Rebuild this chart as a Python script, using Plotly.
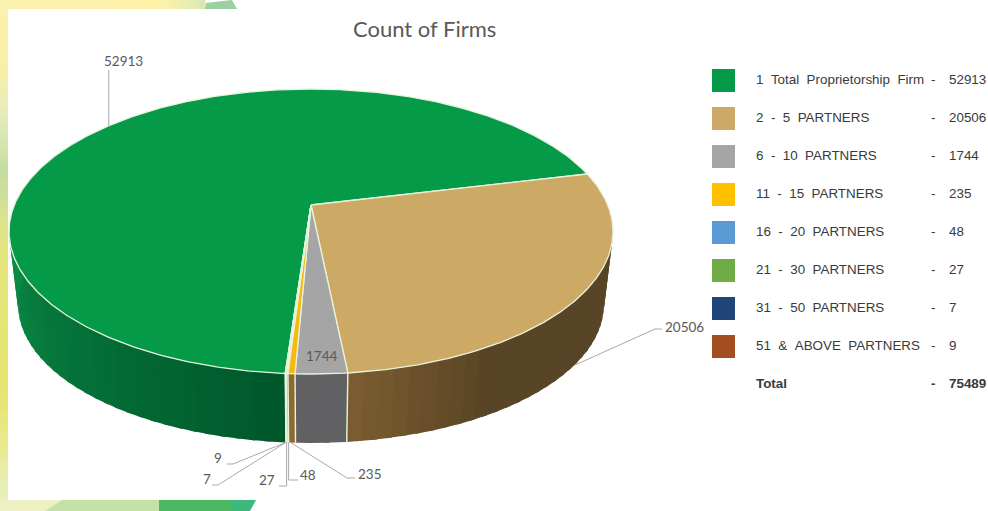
import numpy as np
import plotly.graph_objects as go

# Firm counts by number of partners
categories = ["2 - 5 PARTNERS", "6 - 10 PARTNERS", "11 - 15 PARTNERS", "16 - 20 PARTNERS",
              "21 - 30 PARTNERS", "31 - 50 PARTNERS", "51 & ABOVE PARTNERS", "1 Total Proprietorship Firm"]
counts = [20506, 1744, 235, 48, 27, 7, 9, 52913]
top_colors = ["#CDA966", "#A5A5A5", "#F5B90F", "#5B9BD5", "#70AD47", "#264478", "#9E480E", "#049A48"]
legend_order = [7, 0, 1, 2, 3, 4, 5, 6]
legend_colors = ["#049A48", "#CCA966", "#A5A5A5", "#FFC000", "#5B9BD5", "#6FAC46", "#1F4477", "#A34E20"]

START_DEG = 76.4          # clockwise from the back of the disc
CX, APEX_Y, SCALE_R = 311.0, 205.0, 296.7
PERSP_B, PERSP_C = 99.45, -0.186
DEPTH_APEX_Y, DEPTH_SCALE = 279.0, 0.97
RIM = "#E9F3DC"


def top_rim(phi_deg):
    p = np.radians(phi_deg)
    u, v = np.sin(p), -np.cos(p)
    w = 1 + PERSP_C * v
    return CX + SCALE_R * u / w, (APEX_Y + PERSP_B * v) / w


def bottom_rim(phi_deg):
    x, y = top_rim(phi_deg)
    return CX + DEPTH_SCALE * (x - CX), DEPTH_APEX_Y + DEPTH_SCALE * (y - APEX_Y)


def hexmix(a, b, t):
    t = min(max(t, 0), 1)
    ca = [int(a[i:i + 2], 16) for i in (1, 3, 5)]
    cb = [int(b[i:i + 2], 16) for i in (1, 3, 5)]
    return "#" + "".join(f"{round(x + (y - x) * t):02x}" for x, y in zip(ca, cb))


def side_color(i, phi):
    if i == 0:
        return hexmix("#7C5D30", "#584426", (174 - phi) / 24)
    if i == 1:
        return "#616163"
    if i == 7:
        return hexmix("#00582B", "#0A8B45", (phi - 186) / 75)
    return "#8F6A30"


fractions = np.array(counts) / sum(counts)
edges = START_DEG + 360 * np.concatenate([[0], np.cumsum(fractions)])
mids = (edges[:-1] + edges[1:]) / 2

fig = go.Figure()


def poly(xs, ys, fill, line=None, width=0.0):
    fig.add_trace(go.Scatter(x=list(xs), y=list(ys), mode="lines", fill="toself", fillcolor=fill,
                             line=dict(color=line or fill, width=width), hoverinfo="skip", showlegend=False))


def path(xs, ys, color, width=1.0):
    fig.add_trace(go.Scatter(x=list(xs), y=list(ys), mode="lines", line=dict(color=color, width=width),
                             hoverinfo="skip", showlegend=False))


shapes = []


def rect(x0, y0, x1, y1, col):
    shapes.append(dict(type="rect", x0=x0, y0=y0, x1=x1, y1=y1, xref="x", yref="y",
                       fillcolor=col, line_width=0, layer="below"))


def ramp(stops, along_y, thickness=8):
    # Soft colour ramp for the decorative band, built from thin rectangles
    for (p0, c0), (p1, c1) in zip(stops[:-1], stops[1:]):
        n = max(1, int((p1 - p0) / 4))
        for k in range(n):
            a = p0 + (p1 - p0) * k / n
            b = p0 + (p1 - p0) * (k + 1) / n
            col = hexmix(c0, c1, (k + 0.5) / n)
            if along_y:
                rect(0, a, thickness, b + 0.5, col)
            else:
                rect(a, 0, b + 0.5, thickness + 1, col)


ramp([(0, "#FBF1AE"), (70, "#F8EFA8"), (110, "#E6EDBB"), (150, "#D2E3AC"), (170, "#C3DCA0"),
      (205, "#D3E294"), (250, "#E4E67E"), (390, "#E6E56F"), (445, "#E9E98C"), (470, "#E7ECA8"), (511, "#E7EFC3")], True)
ramp([(0, "#FBF1AE"), (160, "#FDF1A8"), (190, "#E8EDB4"), (205, "#D6E6B4")], False)


def band(pts, col):
    d = "M" + " L".join(f"{x},{y}" for x, y in pts) + " Z"
    shapes.append(dict(type="path", path=d, xref="x", yref="y", fillcolor=col, line_width=0, layer="below"))


band([(206, 3), (232, 0), (237, 9), (205, 9)], "#9CCFA2")
band([(0, 500), (62, 500), (45, 511), (0, 511)], "#EEF0C4")
band([(62, 500), (159, 500), (159, 511), (45, 511)], "#C3E2A6")
band([(159, 500), (232, 500), (232, 511), (159, 511)], "#4DB863")
band([(232, 500), (256, 500), (250, 511), (232, 511)], "#3FB87B")

# Side wall, split into narrow overlapping strips for the shading
for i in [7, 0, 1, 2, 3, 4, 5, 6]:
    a, b = edges[i], edges[i + 1]
    a2, b2 = max(a, 60.0), min(b, 300.0)
    if b2 <= a2:
        continue
    n = max(1, int((b2 - a2) / 2.5))
    steps = np.linspace(a2, b2, n + 1)
    for s, e in zip(steps[:-1], steps[1:]):
        phis = np.linspace(s, min(e + 1.0, b2), 5)
        tx, ty = top_rim(phis)
        bx, by = bottom_rim(phis)
        poly(np.r_[tx, bx[::-1]], np.r_[ty, by[::-1]], side_color(i, (s + e) / 2))

# Vertical seams between the visible wall segments
for i in range(1, 8):
    tx, ty = top_rim(edges[i])
    bx, by = bottom_rim(edges[i])
    path([tx, bx], [ty, by], RIM, 1.4)

# Top face of each slice
for i in [7, 0, 1, 2, 3, 4, 5, 6]:
    phis = np.linspace(edges[i], edges[i + 1], max(3, int((edges[i + 1] - edges[i]) * 2)))
    x, y = top_rim(phis)
    poly(np.r_[CX, x, CX], np.r_[APEX_Y, y, APEX_Y], top_colors[i], RIM, 1.3)

anns = []


def text(x, y, s, size, color="#595959", font="Lato", anchor="left", bold=False):
    shift = {"left": -2, "right": 2, "center": 0}[anchor]
    anns.append(dict(x=x, y=y, xref="x", yref="y", xshift=shift, text=f"<b>{s}</b>" if bold else str(s),
                     showarrow=False, xanchor=anchor, yanchor="middle", align=anchor,
                     font=dict(family=font, size=size, color=color)))


text(424.5, 28, "Count of Firms", 22, anchor="center")

# Value labels with leader lines anchored on the slices
LEADER = "#A9A9A9"
LABEL = 13.5
ax, ay = top_rim(mids[7])
path([ax, ax], [ay, 70], LEADER)
text(123, 61, counts[7], LABEL, anchor="center")
ax, ay = bottom_rim(mids[0])
path([ax, 655, 662], [ay, 329, 329], LEADER)
text(665, 327, counts[0], LABEL)
text(321, 356, counts[1], LABEL, anchor="center")

bx, by = bottom_rim(edges[3])
path([bx + 2, 347, 355], [by, 478, 478], LEADER)
text(358, 474, counts[2], LABEL)
path([bx, bx, 298], [by, 480, 480], LEADER)
text(300, 475, counts[3], LABEL)
path([bx - 2, bx - 2, 279], [by, 486, 486], LEADER)
text(275, 480, counts[4], LABEL, anchor="right")
path([bx - 3, 218, 212], [by, 485, 485], LEADER)
text(207, 479, counts[5], LABEL, anchor="center")
path([bx - 3, 233, 227], [by, 464, 464], LEADER)
text(218, 458, counts[6], LABEL, anchor="center")

# Legend table, with the wider word gaps of the printed table
ROW_Y = 80.5
ROW_STEP = 38
LEG_FONT = "Liberation Sans"
LEG_COLOR = "#3A3A3A"
LEG_SIZE = 13.4
for r, idx in enumerate(legend_order):
    y = ROW_Y + r * ROW_STEP
    fig.add_trace(go.Scatter(x=[723.5], y=[y], mode="markers", hoverinfo="skip", showlegend=False,
                             marker=dict(symbol="square", size=23, color=legend_colors[r], line_width=0)))
    text(756, y - 1, categories[idx].replace(" ", "\u00a0\u00a0"), LEG_SIZE, LEG_COLOR, LEG_FONT)
    text(931, y - 1, "-", LEG_SIZE, LEG_COLOR, LEG_FONT)
    text(949, y - 1, counts[idx], LEG_SIZE, LEG_COLOR, LEG_FONT)
y = ROW_Y + 8 * ROW_STEP
text(756, y - 1, "Total", LEG_SIZE, LEG_COLOR, LEG_FONT, bold=True)
text(931, y - 1, "-", LEG_SIZE, LEG_COLOR, LEG_FONT, bold=True)
text(949, y - 1, sum(counts), LEG_SIZE, LEG_COLOR, LEG_FONT, bold=True)

fig.update_layout(
    width=988, height=511, margin=dict(l=0, r=0, t=0, b=0),
    paper_bgcolor="white", plot_bgcolor="white", showlegend=False,
    xaxis=dict(range=[0, 988], visible=False, fixedrange=True),
    yaxis=dict(range=[511, 0], visible=False, fixedrange=True),
    shapes=shapes, annotations=anns,
)
fig.write_html("out.html", config=dict(displayModeBar=False))
